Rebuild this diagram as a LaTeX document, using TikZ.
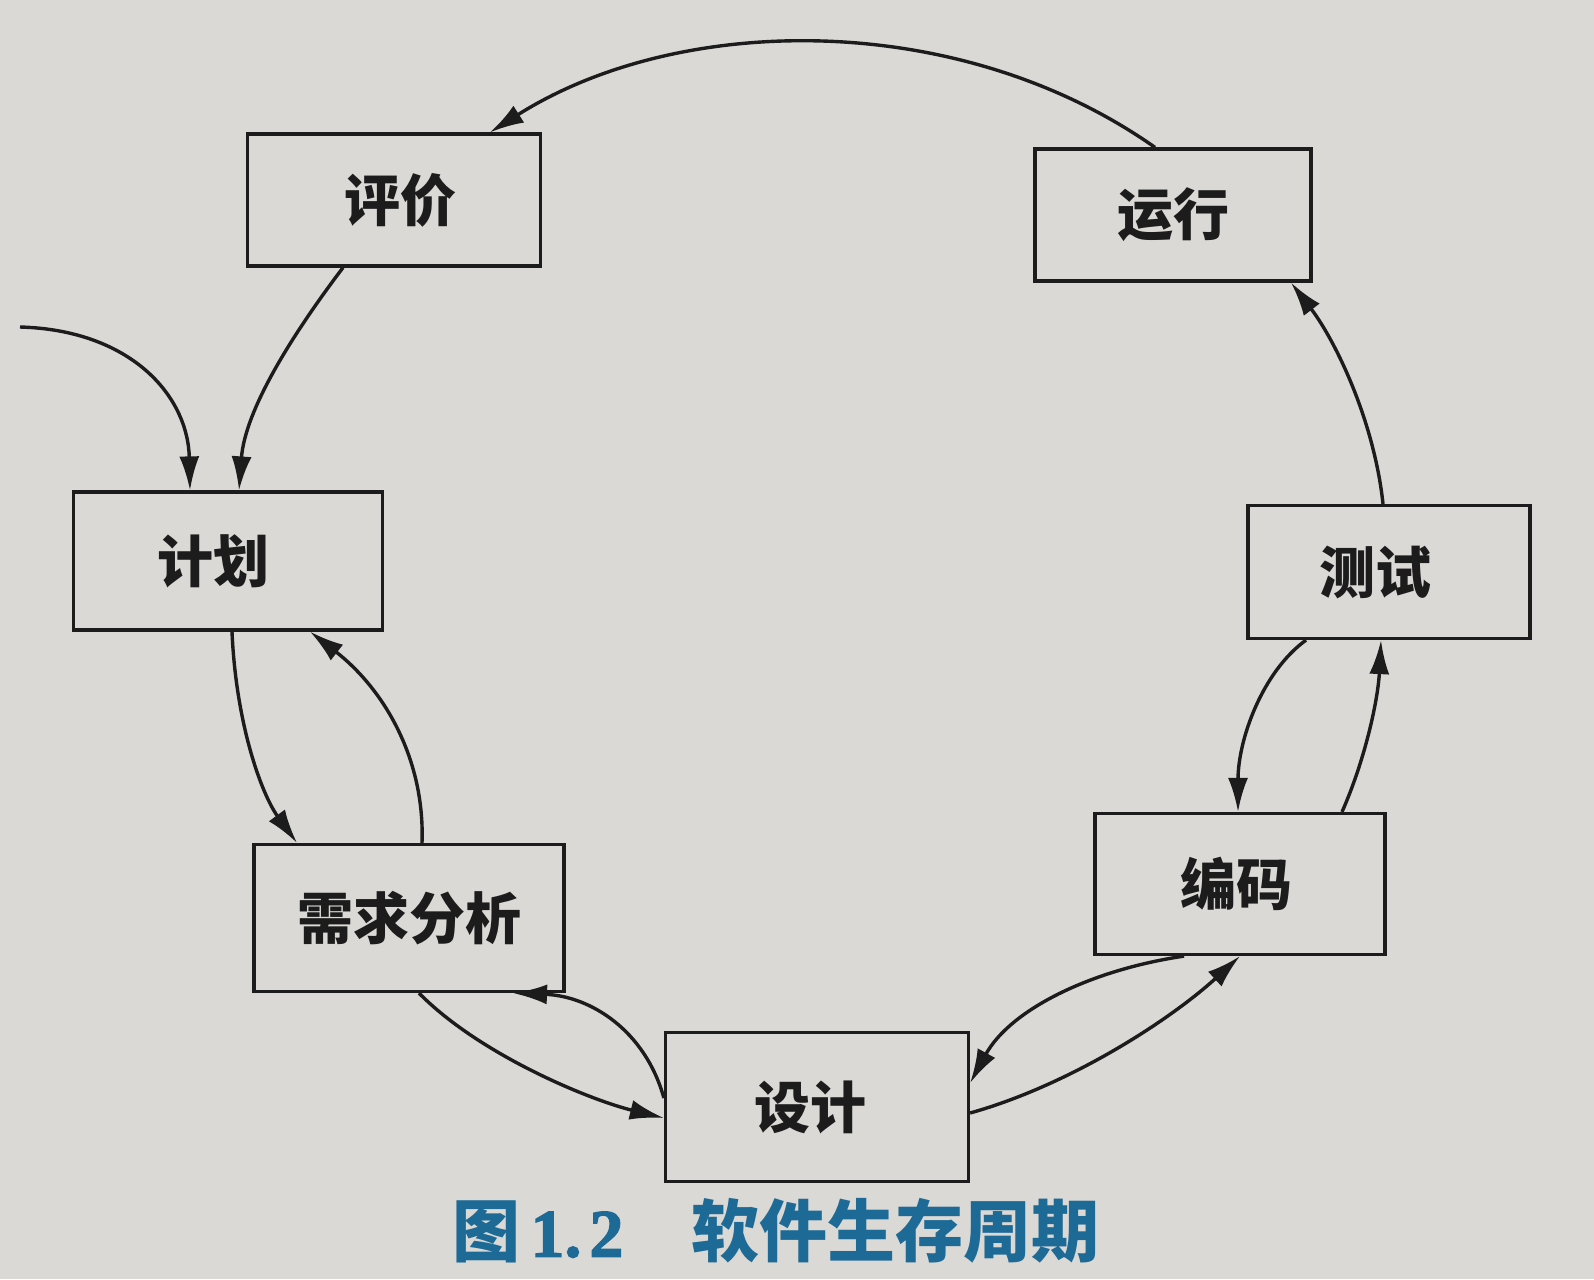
\documentclass[tikz,border=0pt]{standalone}
\usepackage{fontspec}
\newfontfamily\cjk{Noto Sans CJK SC}
\newfontfamily\capnum{Liberation Serif}[FakeBold=2]
\usetikzlibrary{arrows.meta,calc}
\definecolor{paper}{RGB}{219,217,213}
\definecolor{ink}{RGB}{28,28,28}
\definecolor{capblue}{RGB}{30,106,150}
\begin{document}
\begin{tikzpicture}[x=0.5pt,y=-0.5pt,
  box/.style 2 args={draw=ink,line width=1.6pt,minimum width=#1*0.5pt,minimum height=#2*0.5pt,inner sep=0pt,
    font=\cjk\bfseries\fontsize{28}{30}\selectfont,text=ink},
  conn/.style={draw=ink,line width=1.7pt,-{Latex[length=17pt,width=10pt]}}]
\fill[paper] (0,0) rectangle (1594,1279);
\useasboundingbox (0,0) rectangle (1594,1279);

\node[box={293}{132}] (pj) at (394,200) {\kern6pt 评价};
\node[box={276}{132}] (yx) at (1173,215) {运行};
\node[box={309}{138}] (jh) at (228,561) {计划\kern15pt};
\node[box={282}{133}] (cs) at (1389,572) {测试\kern14pt};
\node[box={310}{147}] (xq) at (409,918) {需求分析};
\node[box={290}{141}] (bm) at (1240,884) {编码\kern4pt};
\node[box={303}{149}] (sj) at (817,1107) {设计\kern7pt};
\coordinate (src) at (20,327);

\draw[conn] ($(yx.north)+(-18,0)$) .. controls (960,10) and (680,12) .. ($(pj.north)+(96,0)$);
\draw[conn] ($(pj.south)+(-51,0)$) .. controls (292,335) and (245,410) .. ($(jh.north)+(11,0)$);
\draw[conn] (src) .. controls (130,330) and (188,395) .. ($(jh.north)+(-38,0)$);
\draw[conn] ($(jh.south)+(4,0)$) .. controls (236,725) and (262,795) .. ($(xq.north)+(-112,0)$);
\draw[conn] ($(xq.north)+(13,0)$) .. controls (425,760) and (385,690) .. ($(jh.south)+(82,0)$);
\draw[conn] ($(xq.south)+(10,0)$) .. controls (480,1055) and (590,1100) .. ($(sj.west)+(0,11)$);
\draw[conn] ($(sj.west)+(0,-9)$) .. controls (645,1030) and (590,996) .. ($(xq.south)+(104,0)$);
\draw[conn] ($(sj.east)+(0,6)$) .. controls (1070,1085) and (1170,1020) .. (bm.south);
\draw[conn] ($(bm.south)+(-56,0)$) .. controls (1090,970) and (1010,1010) .. ($(sj.east)+(0,-24)$);
\draw[conn] ($(bm.north)+(102,0)$) .. controls (1365,760) and (1378,700) .. ($(cs.south)+(-8,0)$);
\draw[conn] ($(cs.south)+(-83,0)$) .. controls (1262,672) and (1238,740) .. ($(bm.north)+(-2,0)$);
\draw[conn] ($(cs.north)+(-6,0)$) .. controls (1374,420) and (1335,340) .. ($(yx.south)+(118,0)$);

\node[text=capblue,font=\cjk\bfseries\fontsize{34}{36}\selectfont,inner sep=0pt] (cap) at (776,1231)
  {图\kern5pt{\capnum 1.\kern4pt 2}\hspace{1em}软件生存周期};
\end{tikzpicture}
\end{document}
